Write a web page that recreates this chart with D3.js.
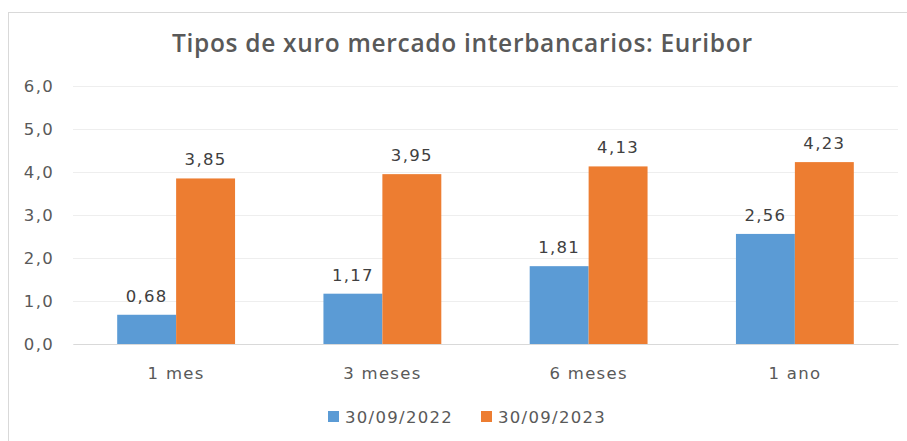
<!DOCTYPE html>
<html><head><meta charset="utf-8">
<script src="https://cdn.jsdelivr.net/npm/d3@7"></script>
<style>body{margin:0;background:#fff}svg{display:block}</style>
</head><body>
<svg id="c" width="907" height="441"></svg>
<script>
const categories = ["1 mes", "3 meses", "6 meses", "1 ano"];
const seriesNames = ["30/09/2022", "30/09/2023"];
const values2022 = [0.68, 1.17, 1.81, 2.56];
const values2023 = [3.85, 3.95, 4.13, 4.23];
const yTicks = [0, 1, 2, 3, 4, 5, 6];
const colors = ["#5B9BD5", "#ED7D31"];

const svg = d3.select("#c");
const fmt = v => v.toFixed(2).replace(".", ",");
const fmtT = v => v.toFixed(1).replace(".", ",");
const labelFont = "DejaVu Sans";
const labelSize = 16.5;
const ls = "1.3px";

// chart border
svg.append("rect").attr("x", 8.5).attr("y", 12.5).attr("width", 910).attr("height", 440)
  .attr("fill", "#fff").attr("stroke", "#D9D9D9");

const x0 = d3.scaleBand().domain(categories).range([73, 898]).paddingInner(0).paddingOuter(0);
const y = d3.scaleLinear().domain([0, 6]).range([344, 86]);

// title
svg.append("text").attr("x", 462).attr("y", 52).attr("text-anchor", "middle")
  .attr("font-family", "Open Sans").attr("font-size", 24.5).attr("font-weight", 600).attr("fill", "#595959")
  .attr("textLength", 580).attr("lengthAdjust", "spacing")
  .text("Tipos de xuro mercado interbancarios: Euribor");

// gridlines
const yAxis = d3.axisLeft(y).tickValues(yTicks).tickSize(-(898 - 73)).tickFormat(fmtT).tickPadding(19);
const gY = svg.append("g").attr("transform", "translate(73,0)").call(yAxis);
gY.select(".domain").remove();
gY.selectAll(".tick line").attr("stroke", "#EEEEEE");
gY.selectAll(".tick text").attr("fill", "#595959").attr("font-family", labelFont)
  .attr("font-size", labelSize).style("letter-spacing", ls);

// x axis
const xAxis = d3.axisBottom(x0).tickSize(0).tickPadding(23);
const gX = svg.append("g").attr("transform", "translate(0,344)").call(xAxis);
gX.select(".domain").attr("stroke", "#D9D9D9").attr("stroke-width", 1.2);
gX.selectAll(".tick text").attr("fill", "#595959").attr("font-family", labelFont)
  .attr("font-size", labelSize).style("letter-spacing", ls);

const barW = x0.bandwidth() / (2 + 1.5);
const series = [values2022, values2023];
series.forEach((vals, si) => {
  const g = svg.append("g");
  g.selectAll("rect").data(vals).enter().append("rect")
    .attr("x", (d, i) => x0(categories[i]) + x0.bandwidth() / 2 - barW + si * barW)
    .attr("y", d => y(d))
    .attr("width", barW)
    .attr("height", d => y(0) - y(d))
    .attr("fill", colors[si]);
  g.selectAll("text").data(vals).enter().append("text")
    .attr("x", (d, i) => x0(categories[i]) + x0.bandwidth() / 2 - barW / 2 + si * barW)
    .attr("y", d => y(d) - 13)
    .attr("text-anchor", "middle")
    .attr("font-family", labelFont).attr("font-size", labelSize).attr("fill", "#404040")
    .style("letter-spacing", ls)
    .text(fmt);
});

// legend
const legend = svg.append("g");
const legX = [328, 481];
seriesNames.forEach((n, i) => {
  legend.append("rect").attr("x", legX[i]).attr("y", 411).attr("width", 11).attr("height", 11).attr("fill", colors[i]);
  legend.append("text").attr("x", legX[i] + 17).attr("y", 423)
    .attr("font-family", labelFont).attr("font-size", labelSize).attr("fill", "#595959")
    .style("letter-spacing", ls).text(n);
});
</script>
</body></html>
